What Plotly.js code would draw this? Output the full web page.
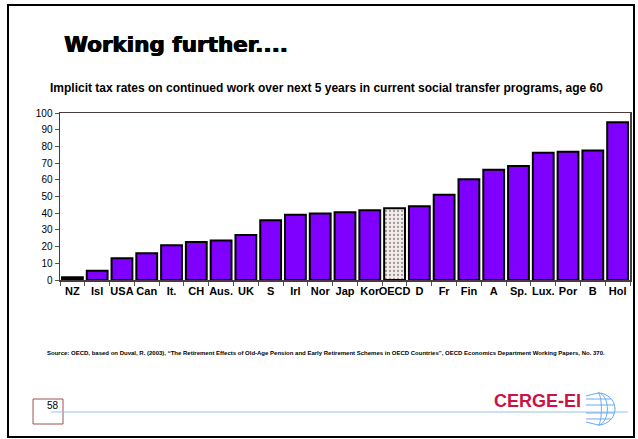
<!DOCTYPE html>
<html><head><meta charset="utf-8">
<script src="https://cdn.plot.ly/plotly-3.0.1.min.js"></script>
<style>html,body{margin:0;padding:0;background:#fff}#chart{width:638px;height:439px}</style>
</head><body><div id="chart"></div>
<script>
const countries = ["NZ","Isl","USA","Can","It.","CH","Aus.","UK","S","Irl","Nor","Jap","Kor","OECD","D","Fr","Fin","A","Sp.","Lux.","Por","B","Hol"];
const taxRates = [1.6,5.6,13,16,20.8,22.8,23.6,27,35.8,39,39.8,40.6,41.8,43,44.2,51,60.4,66,68.2,76.2,76.8,77.6,94.4];
const yTicks = [0,10,20,30,40,50,60,70,80,90,100];

const purple = '#8000ff';
const colors = countries.map(c => c === 'NZ' ? '#000000' : (c === 'OECD' ? '#f6ecec' : purple));
const patterns = countries.map(c => c === 'OECD' ? '.' : '');

const trace = {
  type: 'bar', x: countries, y: taxRates,
  marker: {color: colors, line: {color: '#000', width: 2},
           pattern: {shape: patterns, fillmode: 'overlay', fgcolor: '#e2cccc', size: 4, solidity: 0.25}},
  hoverinfo: 'skip'
};

function globePath() {
  const px = x => (x - 60) / 570, py = y => (280 - y) / 167;
  const cx = 598, cy = 409, rx = 17, ry = 16;
  let p = '';
  const arc = (rxx) => {
    let s = '';
    for (let i = 0; i <= 20; i++) {
      const t = -Math.PI / 2 + Math.PI * i / 20;
      const x = cx + rxx * Math.cos(t), y = cy + ry * Math.sin(t);
      s += (i === 0 ? 'M' : 'L') + px(x).toFixed(4) + ',' + py(y).toFixed(4) + ' ';
    }
    return s;
  };
  p += arc(rx) + arc(rx * 0.55) + arc(rx * 0.2);
  [-10, -4, 4, 10].forEach(dy => {
    const w = rx * Math.sqrt(1 - (dy / ry) * (dy / ry));
    p += 'M' + px(cx - 12).toFixed(4) + ',' + py(cy + dy).toFixed(4) + ' L' + px(cx + w).toFixed(4) + ',' + py(cy + dy).toFixed(4) + ' ';
  });
  p += 'M' + px(cx).toFixed(4) + ',' + py(cy - ry).toFixed(4) + ' L' + px(cx - 12).toFixed(4) + ',' + py(cy - ry + 3).toFixed(4) + ' ';
  p += 'M' + px(cx).toFixed(4) + ',' + py(cy + ry).toFixed(4) + ' L' + px(cx - 12).toFixed(4) + ',' + py(cy + ry - 3).toFixed(4) + ' ';
  return p;
}

const layout = {
  width: 638, height: 439,
  margin: {l: 60, r: 8, t: 113, b: 159},
  paper_bgcolor: '#fff', plot_bgcolor: '#fff',
  bargap: 0.16,
  showlegend: false,
  font: {family: 'Liberation Sans, Arial, sans-serif', color: '#000'},
  xaxis: {
    type: 'category', showgrid: false, zeroline: false,
    showline: true, linecolor: '#4a3a3a', linewidth: 1.5, mirror: true,
    ticks: 'outside', tickson: 'boundaries', ticklen: 4, tickcolor: '#555',
    tickfont: {family: 'Liberation Sans, Arial', size: 11, color: '#000', weight: 'bold'},
    tickangle: 0
  },
  yaxis: {
    range: [0, 100], tickvals: yTicks, showgrid: false, zeroline: false,
    showline: true, linecolor: '#4a3a3a', linewidth: 1.5, mirror: true,
    ticks: 'outside', ticklen: 4, tickcolor: '#555',
    tickfont: {family: 'Liberation Sans, Arial', size: 10, color: '#000'}
  },
  shapes: [
    {type: 'rect', xref: 'paper', yref: 'paper',
     x0: (8-60)/570, x1: (634-60)/570, y0: (280-437)/167, y1: (280-5)/167,
     line: {color: '#000', width: 2}, fillcolor: 'rgba(0,0,0,0)', layer: 'below'},
    {type: 'rect', xref: 'paper', yref: 'paper',
     x0: (33-60)/570, x1: (63-60)/570, y0: (280-424)/167, y1: (280-399)/167,
     line: {color: '#a05050', width: 1}, fillcolor: 'rgba(0,0,0,0)'},
    {type: 'line', xref: 'paper', yref: 'paper',
     x0: (51-60)/570, x1: (628-60)/570, y0: (280-412)/167, y1: (280-412)/167,
     line: {color: '#99c4f0', width: 1.2}},
    {type: 'path', xref: 'paper', yref: 'paper',
     path: globePath(), line: {color: '#66aaee', width: 1}, fillcolor: 'rgba(0,0,0,0)'}
  ],
  annotations: [
    {text: 'Working further....', xref: 'paper', yref: 'paper', x: (62-60)/570, y: (280-45)/167,
     xanchor: 'left', yanchor: 'middle', showarrow: false,
     font: {family: 'DejaVu Sans, Arial', size: 21.5, color: '#000', weight: 'bold',
            shadow: '0.7px 0 0 #000, -0.3px 0 0 #000'}},
    {text: 'Implicit tax rates on continued work over next 5 years in current social transfer programs, age 60',
     xref: 'paper', yref: 'paper', x: (326-60)/570, y: (280-88)/167,
     xanchor: 'center', yanchor: 'middle', showarrow: false,
     font: {family: 'Liberation Sans, Arial', size: 12, color: '#000', weight: 'bold'}},
    {text: 'Source: OECD, based on Duval, R. (2003), “The Retirement Effects of Old-Age Pension and Early Retirement Schemes in OECD Countries”, OECD Economics Department Working Papers, No. 370.',
     xref: 'paper', yref: 'paper', x: (326-60)/570, y: (280-353)/167,
     xanchor: 'center', yanchor: 'middle', showarrow: false,
     font: {family: 'Liberation Sans, Arial', size: 6, color: '#000', weight: 'bold'}},
    {text: '58', xref: 'paper', yref: 'paper', x: (61-60)/570, y: (280-405)/167,
     xanchor: 'right', yanchor: 'middle', showarrow: false,
     font: {family: 'Liberation Sans, Arial', size: 10, color: '#000'}},
    {text: 'CERGE-EI', xref: 'paper', yref: 'paper', x: (583-60)/570, y: (280-401)/167,
     xanchor: 'right', yanchor: 'middle', showarrow: false,
     font: {family: 'Liberation Sans, Arial', size: 18, color: '#cc1144', weight: 'bold'}}
  ]
};

Plotly.newPlot('chart', [trace], layout, {displayModeBar: false, staticPlot: true});
</script></body></html>
